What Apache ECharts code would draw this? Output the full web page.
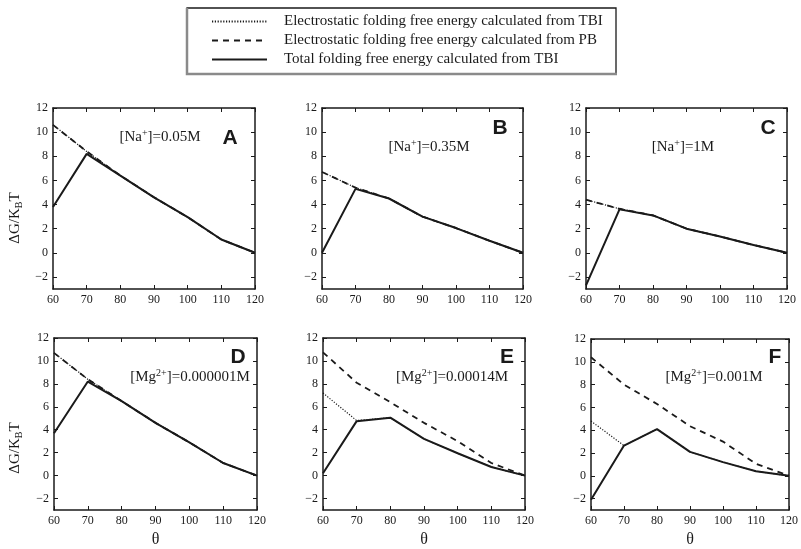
<!DOCTYPE html>
<html>
<head>
<meta charset="utf-8">
<script src="https://cdn.jsdelivr.net/npm/echarts@6/dist/echarts.min.js"></script>
<style>
html,body{margin:0;padding:0;background:#fff;}
#chart{width:801px;height:549px;}
</style>
</head>
<body>
<div id="chart"></div>
<script>
// ---- data ----
var theta = [60, 70, 80, 90, 100, 110, 120];
var yTicks = [-2, 0, 2, 4, 6, 8, 10, 12];
var seriesNames = [
  'Electrostatic folding free energy calculated from TBI',
  'Electrostatic folding free energy calculated from PB',
  'Total folding free energy calculated from TBI'
];
var panelLetters = ['A', 'B', 'C', 'D', 'E', 'F'];
var panelIons = ['Na', 'Na', 'Na', 'Mg', 'Mg', 'Mg'];
var panelCharges = ['+', '+', '+', '2+', '2+', '2+'];
var panelConc = ['=0.05M', '=0.35M', '=1M', '=0.000001M', '=0.00014M', '=0.001M'];

var A_tbiElec = [10.6, 8.4, 6.4, 4.6, 2.95, 1.1, 0];
var A_pbElec  = [10.6, 8.4, 6.4, 4.6, 2.95, 1.1, 0];
var A_total   = [3.8, 8.2, 6.4, 4.6, 2.95, 1.1, 0];

var B_tbiElec = [6.7, 5.4, 4.5, 3.0, 2.05, 1.0, 0];
var B_pbElec  = [6.7, 5.4, 4.5, 3.0, 2.05, 1.0, 0];
var B_total   = [0.0, 5.3, 4.5, 3.0, 2.05, 1.0, 0];

var C_tbiElec = [4.4, 3.65, 3.1, 2.0, 1.35, 0.65, 0];
var C_pbElec  = [4.4, 3.65, 3.1, 2.0, 1.35, 0.65, 0];
var C_total   = [-2.7, 3.6, 3.1, 2.0, 1.35, 0.65, 0];

var D_tbiElec = [10.7, 8.4, 6.5, 4.6, 2.9, 1.1, 0];
var D_pbElec  = [10.7, 8.4, 6.5, 4.6, 2.9, 1.1, 0];
var D_total   = [3.7, 8.2, 6.5, 4.6, 2.9, 1.1, 0];

var E_tbiElec = [7.2, 4.8, 5.05, 3.2, 1.95, 0.75, 0];
var E_pbElec  = [10.75, 8.1, 6.4, 4.6, 3.0, 1.1, 0];
var E_total   = [0.2, 4.75, 5.05, 3.2, 1.95, 0.75, 0];

var F_tbiElec = [4.8, 2.65, 4.1, 2.1, 1.2, 0.4, 0];
var F_pbElec  = [10.4, 8.0, 6.3, 4.35, 3.0, 1.05, 0];
var F_total   = [-2.1, 2.65, 4.1, 2.1, 1.2, 0.4, 0];

var panelData = [
  [A_tbiElec, A_pbElec, A_total],
  [B_tbiElec, B_pbElec, B_total],
  [C_tbiElec, C_pbElec, C_total],
  [D_tbiElec, D_pbElec, D_total],
  [E_tbiElec, E_pbElec, E_total],
  [F_tbiElec, F_pbElec, F_total]
];

// ---- layout / styling ----
var SERIF = '"Liberation Serif","DejaVu Serif",serif';
var SANS = '"Liberation Sans",Arial,sans-serif';
var INK = '#1a1a1a';
var grids = [
  {left: 53,  top: 108, width: 202, height: 181},
  {left: 322, top: 108, width: 201, height: 181},
  {left: 586, top: 108, width: 201, height: 181},
  {left: 54,  top: 338, width: 203, height: 181},
  {left: 323, top: 338, width: 202, height: 181},
  {left: 591, top: 339, width: 202, height: 181}
];
var letterPos = [[230,138],[500,128],[768,128],[238,357],[507,357],[775,357]];
var notePos = [[160,137],[429,147],[683,147],[190,377],[452,377],[714,377]];
var lineStyles = [
  {color: INK, width: 1.2, type: [1.2, 1.6]},
  {color: INK, width: 1.8, type: [6, 5]},
  {color: INK, width: 2, type: 'solid'}
];

var xAxes = [], yAxes = [], series = [], graphics = [];
grids.forEach(function (g, i) {
  var axisLine = {show: true, onZero: false, lineStyle: {color: INK, width: 1.5}};
  var tick = {show: true, inside: true, length: 4, lineStyle: {color: INK, width: 1}};
  xAxes.push({
    type: 'value', gridIndex: i, min: 60, max: 120, interval: 10, position: 'bottom',
    axisLine: axisLine, axisTick: tick, splitLine: {show: false},
    axisLabel: {fontFamily: SERIF, fontSize: 12, color: INK, margin: 5},
    name: i >= 3 ? 'θ' : '', nameLocation: 'middle', nameGap: 22,
    nameTextStyle: {fontFamily: SERIF, fontSize: 16, color: INK}
  });
  xAxes.push({
    type: 'value', gridIndex: i, min: 60, max: 120, interval: 10, position: 'top',
    axisLine: axisLine, axisTick: tick, splitLine: {show: false},
    axisLabel: {show: false}
  });
  yAxes.push({
    type: 'value', gridIndex: i, min: -3, max: 12, position: 'left',
    axisLine: axisLine,
    axisTick: {show: true, inside: true, length: 4, lineStyle: {color: INK, width: 1}, customValues: yTicks},
    splitLine: {show: false},
    axisLabel: {fontFamily: SERIF, fontSize: 12, color: INK, margin: 5, customValues: yTicks,
      formatter: function (v) { return v < 0 ? '\u2212' + Math.abs(v) : String(v); }}
  });
  yAxes.push({
    type: 'value', gridIndex: i, min: -3, max: 12, position: 'right',
    axisLine: axisLine,
    axisTick: {show: true, inside: true, length: 4, lineStyle: {color: INK, width: 1}, customValues: yTicks},
    splitLine: {show: false},
    axisLabel: {show: false}
  });
  panelData[i].forEach(function (vals, k) {
    series.push({
      type: 'line', name: seriesNames[k],
      xAxisIndex: 2 * i, yAxisIndex: 2 * i,
      data: theta.map(function (t, j) { return [t, vals[j]]; }),
      symbol: 'none', showSymbol: false, lineStyle: lineStyles[k], itemStyle: {color: INK},
      z: 2 + k, silent: true
    });
  });
  graphics.push({
    type: 'text', x: letterPos[i][0], y: letterPos[i][1],
    style: {text: panelLetters[i], font: 'bold 21px ' + SANS, fill: INK,
      textAlign: 'center', textVerticalAlign: 'middle'}
  });
  graphics.push({
    type: 'text', x: notePos[i][0], y: notePos[i][1],
    style: {
      text: '{b|[' + panelIons[i] + '}{s|' + panelCharges[i] + '}{b|]' + panelConc[i] + '}',
      textAlign: 'center', textVerticalAlign: 'middle',
      rich: {
        b: {fontFamily: SERIF, fontSize: 15, fill: INK, color: INK, lineHeight: 17},
        s: {fontFamily: SERIF, fontSize: 10, fill: INK, color: INK, verticalAlign: 'top', lineHeight: 17}
      }
    }
  });
});

// y-axis titles
[[15, 218], [15, 448]].forEach(function (p) {
  graphics.push({
    type: 'text', x: p[0], y: p[1], rotation: Math.PI / 2,
    style: {
      text: '{a|ΔG/K}{b|B}{a|T}', textAlign: 'center', textVerticalAlign: 'middle',
      rich: {
        a: {fontFamily: SERIF, fontSize: 15, fill: INK, color: INK, lineHeight: 18},
        b: {fontFamily: SERIF, fontSize: 10, fill: INK, color: INK, verticalAlign: 'bottom', lineHeight: 18}
      }
    }
  });
});

// legend frame
graphics.push({type: 'polyline', shape: {points: [[187, 73], [187, 8], [616, 8], [616, 73]]},
  style: {stroke: INK, lineWidth: 1.3, fill: null}, z: 1});
graphics.push({type: 'polyline', shape: {points: [[187, 8], [187, 74], [617, 74]]},
  style: {stroke: '#8a8a8a', lineWidth: 2.5, fill: null}, z: 1});

var chart = echarts.init(document.getElementById('chart'), null, {renderer: 'canvas'});
chart.setOption({
  animation: false,
  backgroundColor: '#fff',
  grid: grids,
  xAxis: xAxes,
  yAxis: yAxes,
  legend: {
    orient: 'vertical', left: 206, top: 9,
    itemWidth: 55, itemHeight: 14, itemGap: 4,
    data: seriesNames, selectedMode: false,
    itemStyle: {color: 'rgba(0,0,0,0)', borderWidth: 0, opacity: 0},
    textStyle: {fontFamily: SERIF, fontSize: 15, color: INK, padding: [0, 0, 0, 12], lineHeight: 14}
  },
  graphic: graphics,
  series: series
});
</script>
</body>
</html>
